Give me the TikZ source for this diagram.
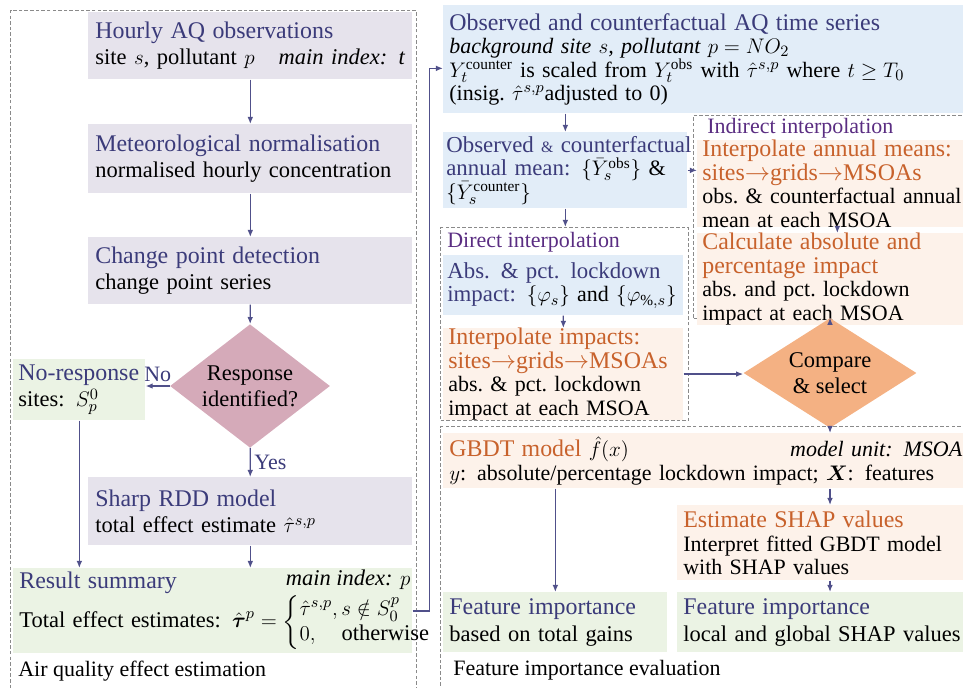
\documentclass[tikz,border=0pt]{standalone}
\usepackage{amsmath,amssymb}
\usepackage{fontspec}
\setmainfont{Liberation Serif}
\usepackage{tikz}
\usetikzlibrary{arrows.meta,shapes.geometric}
\definecolor{navy}{HTML}{3B3B7A}
\definecolor{plum}{HTML}{5A2D82}
\definecolor{rust}{HTML}{C8622C}
\definecolor{wire}{HTML}{50508A}
\definecolor{dashg}{HTML}{8A8A8A}
\definecolor{procfill}{HTML}{E6E3EC}
\definecolor{datafill}{HTML}{E2EDF8}
\definecolor{outfill}{HTML}{EBF3E4}
\definecolor{interfill}{HTML}{FDF2EA}
\definecolor{mauve}{HTML}{D5AAB9}
\definecolor{apricot}{HTML}{F4B183}
\newcommand{\ttl}{\fontsize{13.6}{15}\selectfont}
\newcommand{\ttls}{\fontsize{13}{15}\selectfont}
\newcommand{\farright}{\hskip 0pt plus 1fill\relax}
\tikzset{
  box/.style={rectangle, anchor=north west, inner xsep=0.14cm, inner ysep=0pt,
    align=left, font=\fontsize{12.8}{15}\selectfont},
  tight/.style={font=\fontsize{12.5}{13.3}\selectfont},
  procbox/.style={box, fill=procfill},
  databox/.style={box, fill=datafill},
  interbox/.style={box, fill=interfill},
  outbox/.style={box, fill=outfill},
  panel/.style={draw=dashg, line width=0.6pt, dash pattern=on 2pt off 1.2pt,
    anchor=north west, inner sep=0pt},
  decide/.style={diamond, inner sep=-2pt, align=center,
    font=\fontsize{12.8}{15}\selectfont},
  arr/.style={draw=wire, line width=0.75pt, -{Latex[length=4pt,width=3.2pt]}},
  lab/.style={anchor=west, inner sep=0pt, font=\fontsize{12.5}{15}\selectfont},
  tag/.style={text=navy, inner sep=2pt, font=\fontsize{12.5}{15}\selectfont},
}

\begin{document}
\begin{tikzpicture}[x=0.02cm, y=-0.02cm]
  \useasboundingbox (0,0) rectangle (963,687);
  % air quality effect estimation
  \node[panel, minimum width=8.12cm, minimum height=13.8cm] (aqpanel) at (10,10) {};
  \node[lab] (aqname) at (18,671) {Air quality effect estimation};
  \node[procbox, text width=6.2cm, minimum height=1.34cm] (hourly) at (88,12)
    {{\ttl\color{navy}Hourly AQ observations}\\
     site $s$, pollutant $p$\farright\textit{main index: t}};
  \node[procbox, text width=6.2cm, minimum height=1.38cm] (meteo) at (88,124)
    {{\ttl\color{navy}Meteorological normalisation}\\ normalised hourly concentration};
  \node[procbox, text width=6.2cm, minimum height=1.34cm] (change) at (88,237)
    {{\ttl\color{navy}Change point detection}\\ change point series};
  \node[decide, fill=mauve, minimum width=3.2cm, minimum height=1.86cm] (resp) at (250,386)
    {Response\\ identified?};
  \node[outbox, inner xsep=0.1cm, text width=2.44cm, minimum height=1.22cm] (nores) at (13,359)
    {{\ttl\color{navy}No-response}\\ sites: $S_p^0$};
  \node[procbox, text width=6.2cm, minimum height=1.36cm] (rdd) at (88,477)
    {{\ttl\color{navy}Sharp RDD model}\\ total effect estimate $\hat{\tau}^{s,p}$};
  \node[outbox, inner xsep=0.12cm, text width=7.74cm, minimum height=1.7cm,
    label={[anchor=north east, inner sep=1pt, font=\itshape\fontsize{12.8}{15}\selectfont]north east:main index: $p$}]
    (res) at (13,568)
    {{\ttl\color{navy}Result summary}\\
     \mbox{Total effect estimates: $\hat{\boldsymbol{\tau}}^p =\left\{\renewcommand{\arraystretch}{0.95}\begin{array}{@{}l@{}}\hat{\tau}^{s,p}, s\notin S_0^p\\ 0,\ \ \ \text{otherwise}\end{array}\right.$}};

  \draw[arr] (hourly) -- (meteo);
  \draw[arr] (meteo) -- (change);
  \draw[arr] (change) -- (resp);
  \draw[arr] (resp.west) -- node[tag, above] {No} (resp.west -| nores.east);
  \draw[arr] (resp) -- node[tag, right] {Yes} (rdd);
  \draw[arr] (rdd) -- (rdd.south |- res.north);
  \draw[arr] (nores) -- (nores.south |- res.north);

  % feature importance evaluation
  \node[panel, minimum width=5.6cm, minimum height=4.06cm] (indpanel) at (693,115) {};
  \node[panel, minimum width=4.96cm, minimum height=3.86cm] (dirpanel) at (440,227) {};
  \node[panel, minimum width=10.6cm, minimum height=5.4cm] (fipanel) at (440,426) {};
  \node[lab, text=plum] (indname) at (707,128) {Indirect interpolation};
  \node[lab, text=plum] (dirname) at (447,242) {Direct interpolation};
  \node[lab] (finame) at (453,670) {Feature importance evaluation};

  \node[databox, tight, inner xsep=0.12cm, text width=10.26cm, minimum height=2.16cm] (obs) at (443,5)
    {{\ttl\color{navy}Observed and counterfactual AQ time series}\\
     \textit{background site $s$, pollutant $p=NO_2$}\\
     $Y_t^{\text{counter}}$ is scaled from $Y_t^{\text{obs}}$ with $\hat{\tau}^{s,p}$ where $t\geq T_0$\\
     (insig.\ $\hat{\tau}^{s,p}$adjusted to 0)};
  \node[databox, tight, inner xsep=0.06cm, text width=4.76cm, minimum height=1.52cm] (mean) at (443,132)
    {\mbox{\ttls\color{navy}Observed {\fontsize{9}{10}\selectfont\&} counterfactual}\\
     \mbox{{\ttls\color{navy}annual mean: }$\{\bar{Y}_s^{\text{obs}}\}$ \&}\\
     $\{\bar{Y}_s^{\text{counter}}\}$};
  \node[databox, tight, inner xsep=0.08cm, text width=4.64cm, minimum height=1.2cm] (abs) at (443,255)
    {{\ttls\color{navy}Abs. \& pct. lockdown}\\
     \mbox{{\ttls\color{navy}impact: }$\{\varphi_s\}$ and $\{\varphi_{\%,s}\}$}};
  \node[interbox, tight, inner xsep=0.1cm, text width=4.6cm, minimum height=1.8cm] (dirbox) at (443,328)
    {{\ttl\color{rust}Interpolate impacts:\\ sites$\to$grids$\to$MSOAs}\\
     abs.\ \& pct.\ lockdown\\ impact at each MSOA};
  \node[interbox, tight, inner xsep=0.1cm, text width=5.4cm, minimum height=1.7cm] (indbox) at (697,140)
    {{\ttl\color{rust}Interpolate annual means:\\ sites$\to$grids$\to$MSOAs}\\
     obs.\ \& counterfactual annual\\ mean at each MSOA};
  \node[interbox, tight, inner xsep=0.1cm, text width=5.4cm, minimum height=1.7cm] (calcbox) at (697,233)
    {{\ttl\color{rust}Calculate absolute and\\ percentage impact}\\
     abs.\ and pct.\ lockdown\\ impact at each MSOA};
  \node[decide, fill=apricot, minimum width=3.46cm, minimum height=1.84cm] (cmp) at (830,373)
    {Compare\\ \& select};
  \node[interbox, tight, inner xsep=0.12cm, text width=10.26cm, minimum height=1.1cm] (gbdt) at (443,433)
    {{\ttl\color{rust}GBDT model} $\hat{f}(x)$\farright\textit{model unit: MSOA}\\
     $y$: absolute/percentage lockdown impact; $\boldsymbol{X}$: features};
  \node[interbox, tight, inner xsep=0.12cm, text width=5.56cm, minimum height=1.5cm] (shap) at (677,505)
    {{\ttl\color{rust}Estimate SHAP values}\\ Interpret fitted GBDT model\\ with SHAP values};
  \node[outbox, inner xsep=0.12cm, text width=4.24cm, minimum height=1.2cm] (fil) at (443,592)
    {{\ttl\color{navy}Feature importance}\\ based on total gains};
  \node[outbox, inner xsep=0.12cm, text width=5.56cm, minimum height=1.2cm] (fir) at (677,592)
    {{\ttl\color{navy}Feature importance}\\ local and global SHAP values};

  \draw[arr] (res.east) -- ++(17,0) |- ([yshift=-0.18cm]obs.west);
  \draw[arr] (obs.south -| mean.north) -- (mean.north);
  \draw[arr] (mean) -- (mean.south |- dirpanel.north);
  \draw[arr] (mean.east) -- (mean.east -| indbox.west);
  \draw[arr] (abs) -- (dirbox);
  \draw[arr] (indbox) -- (calcbox);
  \draw[arr] (calcbox.south -| cmp.north) -- (cmp.north);
  \draw[arr] (dirbox.east) -- (dirbox.east -| cmp.west);
  \draw[arr] (cmp) -- (cmp.south |- gbdt.north);
  \draw[arr] (gbdt.south -| cmp.south) -- (shap.north -| cmp.south);
  \draw[arr] (shap.south -| cmp.south) -- (fir.north -| cmp.south);
  \draw[arr] (gbdt.south -| fil.north) -- (fil.north);
\end{tikzpicture}
\end{document}
